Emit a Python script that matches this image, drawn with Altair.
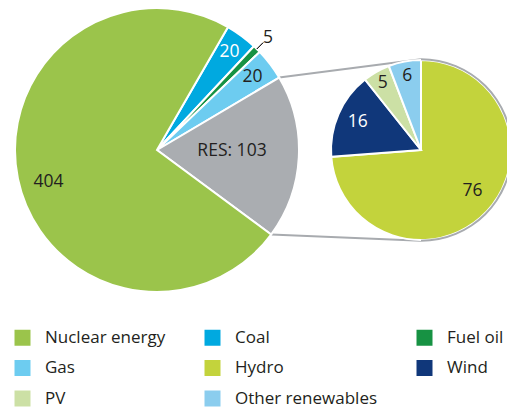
import math
import altair as alt
import pandas as pd

# ---------------- data ----------------
main_categories = ["Coal", "Fuel oil", "Gas", "RES", "Nuclear energy"]
main_values = [20, 5, 20, 103, 404]
main_labels = ["20", "5", "20", "RES: 103", "404"]

res_categories = ["Hydro", "Wind", "PV", "Other renewables"]
res_values = [76, 16, 5, 6]
res_labels = ["76", "16", "5", "6"]

legend_order = ["Nuclear energy", "Coal", "Fuel oil", "Gas",
                "Hydro", "Wind", "PV", "Other renewables"]

# ---------------- styles ----------------
COLORS = {
    "Nuclear energy": "#9BC44B",
    "Coal": "#00A9E0",
    "Fuel oil": "#179243",
    "Gas": "#6DCCF0",
    "Hydro": "#C3D33C",
    "Wind": "#10377A",
    "PV": "#CCE0A5",
    "Other renewables": "#8BCDEE",
    "RES": "#AAADB1",
}
TEXT = "#231F20"
GREY = "#A8ABAF"
FONT = "Open Sans"

# label placement (radius in px, angular shift in degrees)
LABEL_R_MAIN = {"Coal": 122, "Fuel oil": 158, "Gas": 120, "RES": 75, "Nuclear energy": 113}
LABEL_DA_MAIN = {"Nuclear energy": -4.5, "RES": -2.5}
LABEL_FILL_MAIN = {"Coal": "white"}
LABEL_R_SUB = {"Hydro": 66, "Wind": 69, "PV": 77, "Other renewables": 75}
LABEL_DA_SUB = {"Hydro": -4}
LABEL_FILL_SUB = {"Wind": "white"}

W, H = 499, 401
MCX, MCY, MR = 149, 142, 142
SCX, SCY, SR = 413, 142, 90
START = math.radians(30)


def frame(cats, vals, labels, rmap, damap, fmap):
    df = pd.DataFrame({"cat": cats, "value": vals, "label": labels})
    total = float(df["value"].sum())
    df["end"] = df["value"].cumsum()
    df["start"] = df["end"] - df["value"]
    df["mid"] = df["start"] + df["value"] / 2
    df["lt"] = df["mid"] + df["cat"].map(lambda c: damap.get(c, 0.0)) / 360.0 * total
    df["lr"] = df["cat"].map(rmap)
    df["tc"] = df["cat"].map(lambda c: fmap.get(c, TEXT))
    return df


main_df = frame(main_categories, main_values, main_labels, LABEL_R_MAIN, LABEL_DA_MAIN, LABEL_FILL_MAIN)
sub_df = frame(res_categories, res_values, res_labels, LABEL_R_SUB, LABEL_DA_SUB, LABEL_FILL_SUB)
main_total = float(sum(main_values))
sub_total = float(sum(res_values))

color_domain = legend_order + ["RES"]
color_scale = alt.Scale(domain=color_domain, range=[COLORS[c] for c in color_domain])
color = alt.Color(
    "cat:N",
    scale=color_scale,
    legend=alt.Legend(
        values=legend_order, title=None, orient="none", legendX=6, legendY=321,
        direction="horizontal", columns=3, symbolType="square", symbolSize=256,
        symbolStrokeWidth=0, labelFont=FONT, labelFontSize=17, labelColor=TEXT,
        labelOffset=14, rowPadding=12.5, columnPadding=38, labelLimit=300,
    ),
)

main_theta_scale = alt.Scale(domain=[0, main_total], range=[START, START + 2 * math.pi])
sub_theta_scale = alt.Scale(domain=[0, sub_total], range=[0, 2 * math.pi])

# ---------------- main pie ----------------
main_arc = alt.Chart(main_df).mark_arc(radius=MR, stroke="white", strokeWidth=2).encode(
    x=alt.value(MCX), y=alt.value(MCY),
    theta=alt.Theta("start:Q", scale=main_theta_scale, stack=False),
    theta2="end:Q",
    color=color,
)
main_text = alt.Chart(main_df).mark_text(font=FONT, fontSize=17.5).encode(
    x=alt.value(MCX), y=alt.value(MCY),
    theta=alt.Theta("lt:Q", scale=main_theta_scale, stack=False),
    radius=alt.Radius("lr:Q", scale=None),
    text="label:N",
    fill=alt.Fill("tc:N", scale=None),
)
leader = alt.Chart(main_df).transform_filter(
    alt.datum.cat == "Fuel oil"
).mark_arc(radius=151, radius2=142, stroke=TEXT, strokeWidth=1, fill=TEXT).encode(
    x=alt.value(MCX), y=alt.value(MCY),
    theta=alt.Theta("mid:Q", scale=main_theta_scale, stack=False),
    theta2="mid:Q",
)
main_layer = alt.layer(main_arc, leader, main_text)

# ---------------- secondary pie ----------------
sub_arc = alt.Chart(sub_df).mark_arc(radius=SR, stroke="white", strokeWidth=2).encode(
    x=alt.value(SCX), y=alt.value(SCY),
    theta=alt.Theta("start:Q", scale=sub_theta_scale, stack=False),
    theta2="end:Q",
    color=color,
)
sub_text = alt.Chart(sub_df).mark_text(font=FONT, fontSize=17.5).encode(
    x=alt.value(SCX), y=alt.value(SCY),
    theta=alt.Theta("lt:Q", scale=sub_theta_scale, stack=False),
    radius=alt.Radius("lr:Q", scale=None),
    text="label:N",
    fill=alt.Fill("tc:N", scale=None),
)
ring = alt.Chart(pd.DataFrame({"k": [0]})).mark_arc(
    radius=SR + 1.8, radius2=SR - 0.2, theta=0, theta2=math.pi, color=GREY
).encode(x=alt.value(SCX), y=alt.value(SCY))
sub_layer = alt.layer(sub_arc, sub_text, ring)

# ---------------- connectors (from RES slice edges to the secondary pie) ----------------
res_row = main_df[main_df["cat"] == "RES"].iloc[0]
a1 = START + res_row["start"] / main_total * 2 * math.pi
a2 = START + res_row["end"] / main_total * 2 * math.pi
conn_df = pd.DataFrame({
    "x": [MCX + MR * math.sin(a1), MCX + MR * math.sin(a2)],
    "y": [MCY - MR * math.cos(a1), MCY - MR * math.cos(a2)],
    "x2": [SCX, SCX],
    "y2": [SCY - SR - 0.8, SCY + SR + 0.8],
})
connectors = alt.Chart(conn_df).mark_rule(color=GREY, strokeWidth=2).encode(
    x=alt.X("x:Q", scale=None), y=alt.Y("y:Q", scale=None),
    x2="x2:Q", y2="y2:Q",
)

chart = alt.layer(connectors, main_layer, sub_layer).resolve_scale(
    theta="independent"
).properties(
    width=W, height=H, padding=0, autosize=alt.AutoSizeParams(type="none"),
).configure_view(stroke=None)

chart.save("out.html", embed_options={"renderer": "svg", "actions": False})
